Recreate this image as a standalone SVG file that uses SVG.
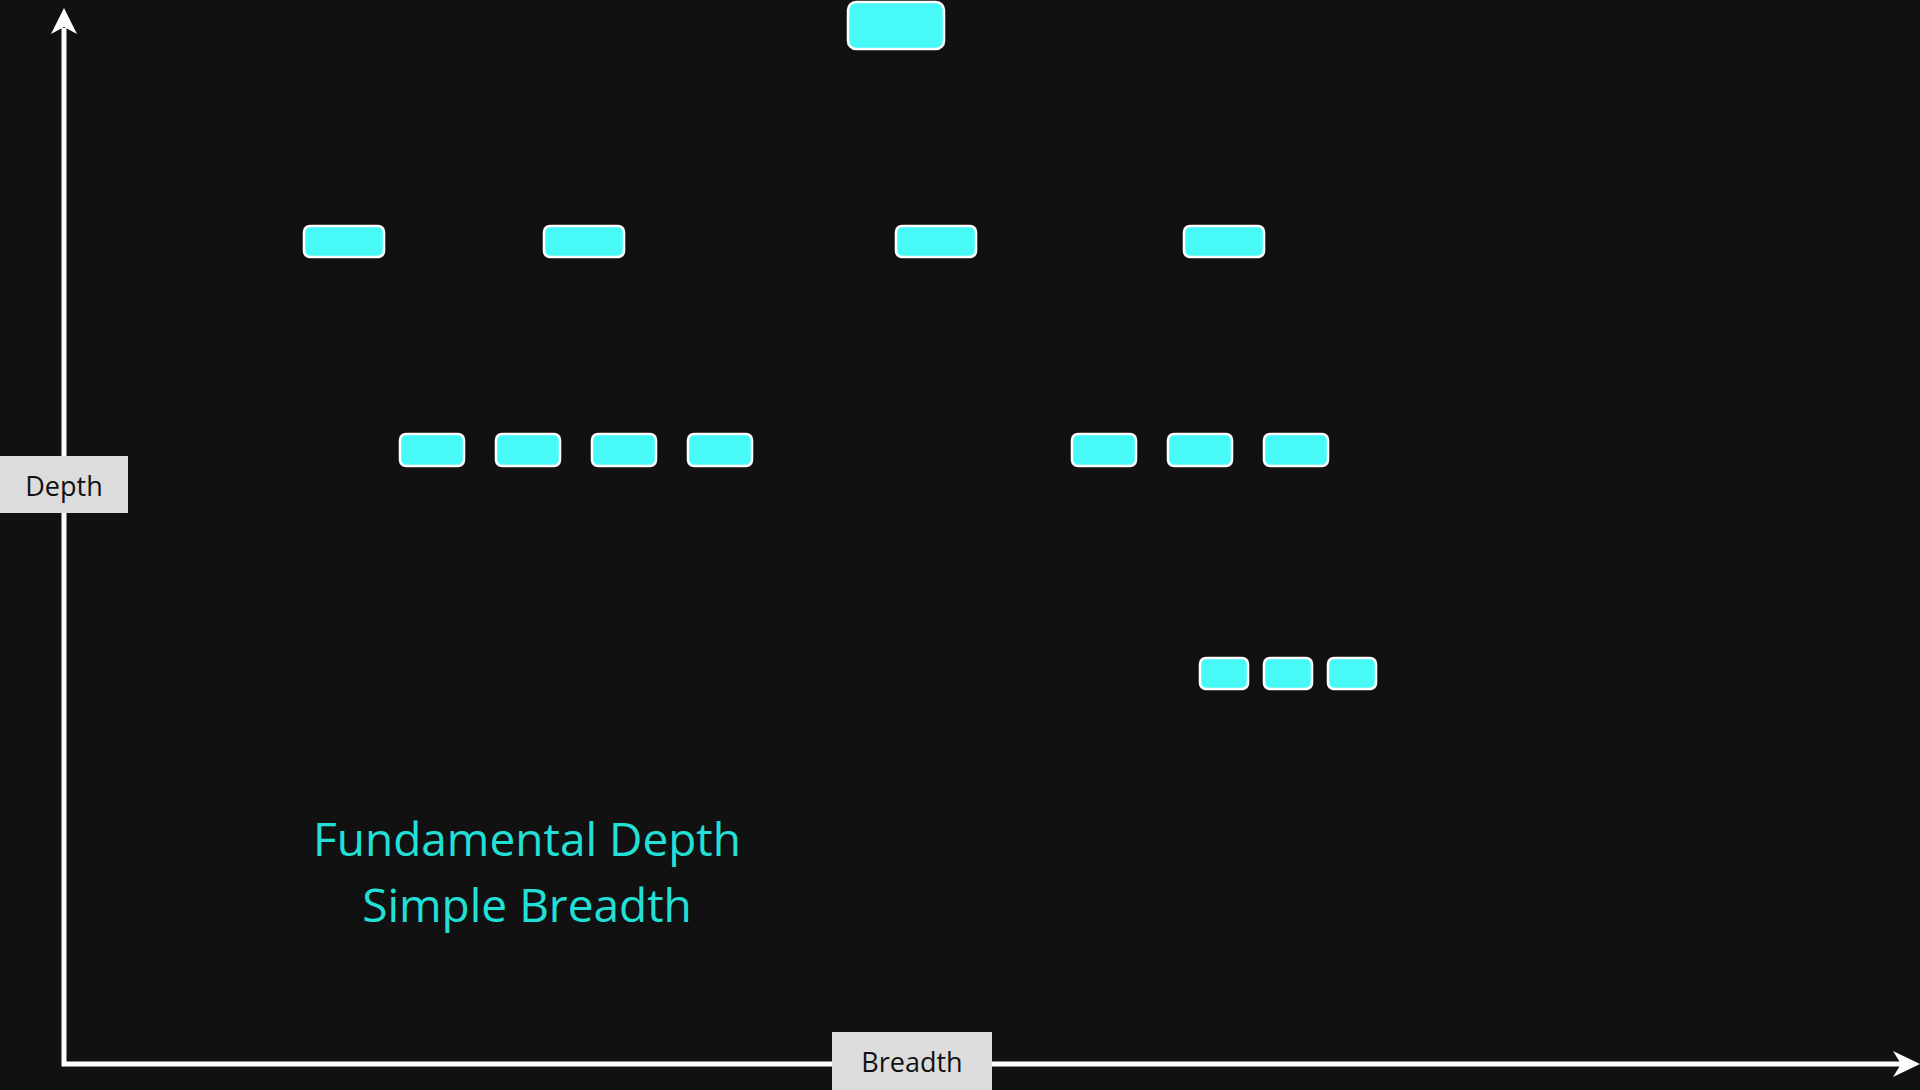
<svg xmlns="http://www.w3.org/2000/svg" width="1920" height="1090" viewBox="0 0 1920 1090">
<style>
.n{fill:#47FAF8;stroke:#FFFFFF;stroke-width:2.5}
.ax{stroke:#FFFFFF;stroke-width:5;fill:none}
.ah{fill:#FFFFFF}
.lb{fill:#DCDCDC}
.lt{font-family:"Open Sans","Noto Sans",sans-serif;font-size:27px;fill:#111111;text-anchor:middle}
.tt{font-family:"Open Sans","Noto Sans",sans-serif;font-size:46px;fill:#22E0D8;text-anchor:middle}
</style>
<rect width="1920" height="1090" fill="#111111"/>
<g id="connectors">
<path class="ax" d="M64,28 V1064 H1902"/>
<path class="ah" d="M64,8 L77,34 L64,27 L51,34 Z"/>
<path class="ah" d="M1920,1064 L1893,1077 L1901,1064 L1893,1051 Z"/>
</g>
<g id="label-depth"><rect class="lb" x="0" y="456" width="128" height="57"/><text class="lt" x="64" y="496">Depth</text></g>
<g id="label-breadth"><rect class="lb" x="832" y="1032" width="160" height="60"/><text class="lt" x="912" y="1072">Breadth</text></g>
<g id="node-root"><rect class="n" x="848" y="2" width="96" height="47" rx="8"/></g>
<g id="node-l1-1"><rect class="n" x="304" y="226" width="80" height="31" rx="6"/></g>
<g id="node-l1-2"><rect class="n" x="544" y="226" width="80" height="31" rx="6"/></g>
<g id="node-l1-3"><rect class="n" x="896" y="226" width="80" height="31" rx="6"/></g>
<g id="node-l1-4"><rect class="n" x="1184" y="226" width="80" height="31" rx="6"/></g>
<g id="node-l2-1"><rect class="n" x="400" y="434" width="64" height="32" rx="6"/></g>
<g id="node-l2-2"><rect class="n" x="496" y="434" width="64" height="32" rx="6"/></g>
<g id="node-l2-3"><rect class="n" x="592" y="434" width="64" height="32" rx="6"/></g>
<g id="node-l2-4"><rect class="n" x="688" y="434" width="64" height="32" rx="6"/></g>
<g id="node-l2-5"><rect class="n" x="1072" y="434" width="64" height="32" rx="6"/></g>
<g id="node-l2-6"><rect class="n" x="1168" y="434" width="64" height="32" rx="6"/></g>
<g id="node-l2-7"><rect class="n" x="1264" y="434" width="64" height="32" rx="6"/></g>
<g id="node-l3-1"><rect class="n" x="1200" y="658" width="48" height="31" rx="6"/></g>
<g id="node-l3-2"><rect class="n" x="1264" y="658" width="48" height="31" rx="6"/></g>
<g id="node-l3-3"><rect class="n" x="1328" y="658" width="48" height="31" rx="6"/></g>
<g id="caption">
<text class="tt" x="527" y="856">Fundamental Depth</text>
<text class="tt" x="527" y="922">Simple Breadth</text>
</g>
</svg>
